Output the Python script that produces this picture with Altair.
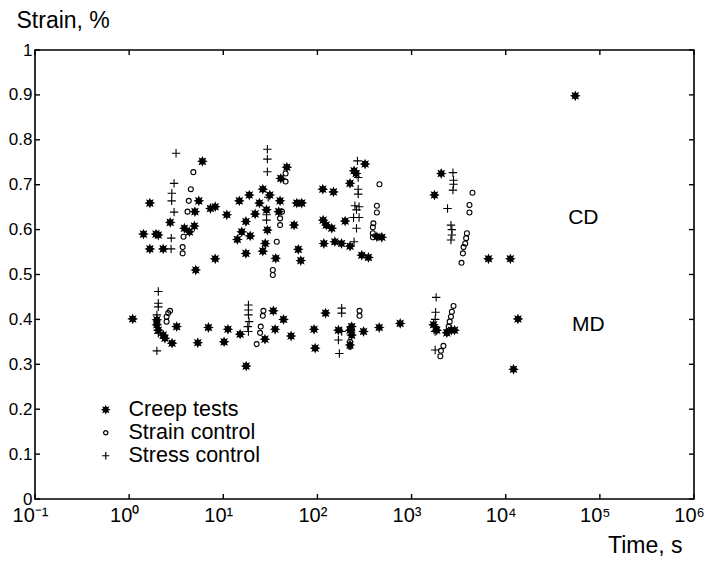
import math
import altair as alt
import pandas as pd

# ---------------- data ----------------
creep_t = [6.0, 1.66, 5.5, 7.3, 8.2, 10.9, 5.0, 2.73, 3.86, 4.93, 4.37, 1.42, 1.93, 2.04, 1.66, 2.3, 8.2, 5.1,
           47.3, 40.8, 114, 26.3, 18.9, 31.2, 24.2, 14.8, 40.1, 60.4, 68.2, 28.8, 21.8, 38.8, 17.4, 56.5, 29.4,
           15.7, 19.3, 14.1, 27.9, 17.4, 26.3, 62.6, 66.6, 36.1, 115, 124, 117,
           321, 245, 258, 222, 148, 197, 142, 153, 180, 222, 428, 483, 296, 348,
           2065, 1750, 6560, 11200, 54800,
           1.09, 1.97, 1.97, 2.04, 2.3, 2.4, 3.2, 2.86, 5.36, 6.95, 10.2, 11.2, 15.1, 17.5, 34, 35.5, 27.7,
           43.6, 52.5, 92, 94.6, 122, 167, 222, 231, 231, 222, 309, 453, 757, 1710, 1850, 2370, 2650, 2860,
           13500, 12100]
creep_s = [0.752, 0.659, 0.664, 0.647, 0.651, 0.633, 0.640, 0.616, 0.603, 0.608, 0.595, 0.590, 0.590, 0.588,
           0.557, 0.557, 0.535, 0.510,
           0.739, 0.714, 0.690, 0.690, 0.677, 0.677, 0.659, 0.664, 0.664, 0.659, 0.659, 0.644, 0.635, 0.640,
           0.618, 0.610, 0.599, 0.595, 0.586, 0.578, 0.569, 0.547, 0.552, 0.556, 0.531, 0.536, 0.621, 0.610, 0.569,
           0.746, 0.731, 0.725, 0.703, 0.684, 0.619, 0.603, 0.573, 0.569, 0.563, 0.584, 0.583, 0.543, 0.538,
           0.725, 0.677, 0.535, 0.535, 0.898,
           0.401, 0.399, 0.388, 0.376, 0.365, 0.358, 0.384, 0.347, 0.348, 0.382, 0.350, 0.378, 0.367, 0.296,
           0.419, 0.378, 0.356, 0.400, 0.363, 0.378, 0.336, 0.414, 0.376, 0.376, 0.384, 0.365, 0.343, 0.373,
           0.382, 0.391, 0.388, 0.376, 0.370, 0.376, 0.376, 0.401, 0.289]

strain_t = [4.81, 4.52, 4.3, 4.17, 3.78, 3.7, 3.7, 45.9, 45.9, 42, 40.1, 40.1, 37, 33.6, 33.6,
            456, 428, 428, 393, 388, 388, 388, 4436, 4120, 4120, 3870, 3800, 3715, 3567, 3510, 3390,
            2.72, 2.6, 2.5, 2.5, 26.7, 26.3, 25.0, 24.6, 22.6, 280, 280, 231, 231, 222, 222,
            2790, 2680, 2620, 2540, 2480, 2370, 2180, 2050, 2020]
strain_s = [0.728, 0.690, 0.664, 0.640, 0.584, 0.561, 0.547, 0.725, 0.707, 0.640, 0.625, 0.610, 0.573, 0.510,
            0.499, 0.701, 0.653, 0.638, 0.614, 0.605, 0.592, 0.583, 0.682, 0.655, 0.638, 0.592, 0.581, 0.569,
            0.561, 0.547, 0.526,
            0.419, 0.414, 0.406, 0.395, 0.419, 0.408, 0.384, 0.370, 0.345, 0.419, 0.408, 0.376, 0.365, 0.350,
            0.339, 0.430, 0.417, 0.406, 0.395, 0.384, 0.373, 0.341, 0.330, 0.318]

stress_t = [3.15, 3.0, 2.84, 2.83, 3.0, 2.8, 2.79, 29.4, 29.4, 29.4, 30, 28.8, 28.8,
            266, 271, 271, 271, 250, 277, 260, 242, 277, 260, 245,
            2750, 2790, 2790, 2750, 2410, 2620, 2680, 2680, 2620,
            2.04, 2.04, 2.04, 1.97, 2.04, 1.97, 18.5, 18.5, 18.5, 18.8, 18.2, 18.5,
            181, 181, 167, 171, 181, 1824, 1800, 1780, 1780, 1780, 1780]
stress_s = [0.770, 0.703, 0.681, 0.664, 0.639, 0.581, 0.557, 0.779, 0.757, 0.729, 0.672, 0.633, 0.621,
            0.753, 0.716, 0.690, 0.679, 0.653, 0.651, 0.644, 0.627, 0.627, 0.603, 0.573,
            0.727, 0.710, 0.701, 0.688, 0.647, 0.610, 0.600, 0.588, 0.577,
            0.462, 0.436, 0.428, 0.410, 0.369, 0.330, 0.432, 0.421, 0.410, 0.395, 0.384, 0.373,
            0.425, 0.414, 0.354, 0.324, 0.373, 0.449, 0.416, 0.400, 0.384, 0.373, 0.332]

series_names = ["Creep tests", "Strain control", "Stress control"]

x_ticks = [0.1, 1, 10, 100, 1000, 1e4, 1e5, 1e6]
y_ticks = [0, 0.1, 0.2, 0.3, 0.4, 0.5, 0.6, 0.7, 0.8, 0.9, 1.0]

label_text = ["CD", "MD"]
label_t = [66700, 75300]
label_s = [0.626, 0.388]

# ---------------- build tables ----------------
df = pd.concat([
    pd.DataFrame({"t": creep_t, "s": creep_s, "kind": series_names[0]}),
    pd.DataFrame({"t": strain_t, "s": strain_s, "kind": series_names[1]}),
    pd.DataFrame({"t": stress_t, "s": stress_s, "kind": series_names[2]}),
], ignore_index=True)

# marker shapes (unit box -1..1)
pts = []
for i in range(16):
    r = 1.0 if i % 2 == 0 else 0.55
    a = math.pi * i / 8
    pts.append(f"{r*math.cos(a):.3f},{r*math.sin(a):.3f}")
star_path = "M" + "L".join(pts) + "Z"
circle_path = "M0.62,0A0.62,0.62 0 1,1 -0.62,0A0.62,0.62 0 1,1 0.62,0Z"
plus_path = "M-1.05,0L1.05,0M0,-1.05L0,1.05"

W, H = 659, 449
FONT = "Liberation Sans"

legend = alt.Legend(orient="none", legendX=60, legendY=349, title=None,
                    labelFontSize=21.5, labelFont=FONT, labelColor="black",
                    symbolSize=49, symbolStrokeWidth=1.2,
                    labelOffset=12, rowPadding=0, padding=0)

xscale = alt.Scale(type="log", domain=[0.1, 1e6], base=10)
yscale = alt.Scale(domain=[0, 1], nice=False, zero=False)

points = alt.Chart(df).mark_point(filled=True, strokeWidth=1.1, opacity=1, size=64).encode(
    x=alt.X("t:Q", scale=xscale,
            axis=alt.Axis(values=x_ticks, title="Time, s", grid=False, ticks=False, domain=False,
                          labelExpr="'10' + ['\u207b\u00b9','\u2070','\u00b9','\u00b2','\u00b3','\u2074','\u2075','\u2076'][round(log(datum.value)/LN10)+1]",
                          labelFontSize=20, labelFont=FONT, labelColor="black", labelPadding=11,
                          labelFlush=False, translate=-4.5,
                          titleFontSize=23, titleFont=FONT, titleFontWeight="normal", titleColor="black",
                          titleAlign="right", titleBaseline="alphabetic", titleX=652, titleY=58)),
    y=alt.Y("s:Q", scale=yscale,
            axis=alt.Axis(values=y_ticks, format="~g", title="Strain, %", grid=False, ticks=False,
                          domain=False, labelFontSize=17, labelFont=FONT, labelColor="black",
                          labelPadding=3, labelFlush=False,
                          titleFontSize=23, titleFont=FONT, titleFontWeight="normal", titleColor="black",
                          titleAngle=0, titleAlign="left", titleBaseline="alphabetic",
                          titleX=-19, titleY=-23)),
    shape=alt.Shape("kind:N", scale=alt.Scale(domain=series_names,
                                              range=[star_path, circle_path, plus_path]), legend=legend),
    fill=alt.Fill("kind:N", scale=alt.Scale(domain=series_names,
                                            range=["black", "transparent", "transparent"]), legend=legend),
    stroke=alt.Stroke("kind:N", scale=alt.Scale(domain=series_names,
                                                range=["black", "black", "black"]), legend=legend),
)

xt = pd.DataFrame({"t": x_ticks})
yt = pd.DataFrame({"s": y_ticks})
tick_len = 5
bottom_ticks = alt.Chart(xt).mark_rule(color="black", strokeWidth=1.4).encode(
    x=alt.X("t:Q", scale=xscale), y=alt.value(H), y2=alt.value(H - tick_len))
top_ticks = alt.Chart(xt).mark_rule(color="black", strokeWidth=1.4).encode(
    x=alt.X("t:Q", scale=xscale), y=alt.value(0), y2=alt.value(tick_len))
left_ticks = alt.Chart(yt).mark_rule(color="black", strokeWidth=1.4).encode(
    y=alt.Y("s:Q", scale=yscale), x=alt.value(0), x2=alt.value(tick_len))
right_ticks = alt.Chart(yt).mark_rule(color="black", strokeWidth=1.4).encode(
    y=alt.Y("s:Q", scale=yscale), x=alt.value(W), x2=alt.value(W - tick_len))

labels = alt.Chart(pd.DataFrame({"t": label_t, "s": label_s, "txt": label_text})).mark_text(
    fontSize=21, font=FONT, color="black", align="center", baseline="middle").encode(
    x=alt.X("t:Q", scale=xscale), y=alt.Y("s:Q", scale=yscale), text="txt:N")

chart = alt.layer(points, bottom_ticks, top_ticks, left_ticks, right_ticks, labels).properties(
    width=W, height=H,
    autosize=alt.AutoSizeParams(type="none"),
    padding={"left": 35, "top": 50, "right": 10, "bottom": 69},
    background="white",
).configure_view(stroke="black", strokeWidth=1.6)

chart.save("out.html", embed_options={"renderer": "svg", "actions": False})
